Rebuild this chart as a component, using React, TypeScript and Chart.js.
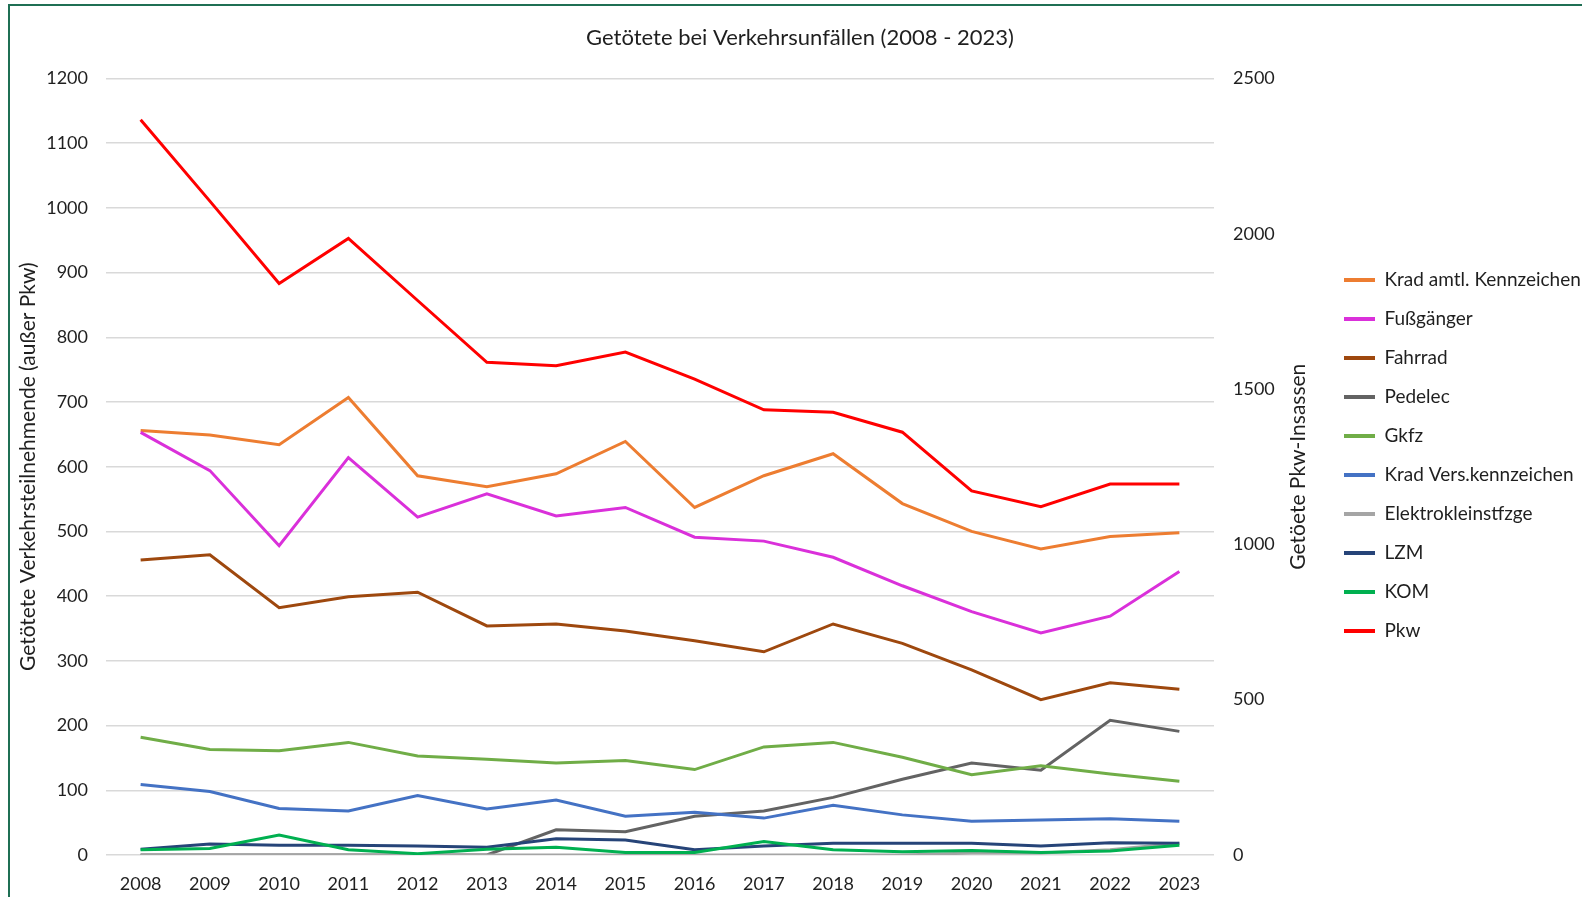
import React, { useEffect, useRef } from "react";
import { Chart, registerables } from "chart.js";

Chart.register(...registerables);

const years = ["2008", "2009", "2010", "2011", "2012", "2013", "2014", "2015", "2016", "2017", "2018", "2019", "2020", "2021", "2022", "2023"];

const kradAmtl = [656, 649, 634, 707, 586, 569, 589, 639, 537, 586, 620, 543, 500, 473, 492, 498];
const fussgaenger = [653, 594, 478, 614, 522, 558, 524, 537, 491, 485, 460, 416, 376, 343, 369, 438];
const fahrrad = [456, 464, 382, 399, 406, 354, 357, 346, 331, 314, 357, 327, 286, 240, 266, 256];
const pedelec = [0, 0, 0, 0, 0, 0, 39, 36, 60, 68, 89, 117, 142, 131, 208, 191];
const gkfz = [182, 163, 161, 174, 153, 148, 142, 146, 132, 167, 174, 151, 124, 138, 125, 114];
const kradVers = [109, 98, 72, 68, 92, 71, 85, 60, 66, 57, 77, 62, 52, 54, 56, 52];
const elektro = [0, 0, 0, 0, 0, 0, 0, 0, 0, 0, 0, 0, 3, 3, 8, 18];
const lzm = [9, 17, 15, 15, 14, 12, 25, 23, 8, 14, 18, 18, 18, 14, 19, 18];
const kom = [8, 10, 31, 8, 2, 9, 12, 4, 4, 21, 8, 5, 7, 4, 6, 15];
const pkw = [2367, 2105, 1840, 1985, 1785, 1586, 1575, 1619, 1532, 1433, 1425, 1361, 1172, 1121, 1194, 1194];

const leftTicks = { min: 0, max: 1200, step: 100 };
const rightTicks = { min: 0, max: 2500, step: 500 };

const chartTitle = "Getötete bei Verkehrsunfällen (2008 - 2023)";
const leftAxisTitle = "Getötete Verkehrsteilnehmende (außer Pkw)";
const rightAxisTitle = "Getöete Pkw-Insassen";

const FONT = "Lato";
const TEXT = "#1f1f1f";

export default function App() {
  const ref = useRef<HTMLCanvasElement>(null);

  useEffect(() => {
    document.body.style.margin = "0";
    document.body.style.overflow = "hidden";
    const canvas = ref.current;
    if (!canvas) return;

    const series = [
      { label: "Krad amtl. Kennzeichen", data: kradAmtl, color: "#ED7D31", axis: "y" },
      { label: "Fußgänger", data: fussgaenger, color: "#DA30DA", axis: "y" },
      { label: "Fahrrad", data: fahrrad, color: "#9E480E", axis: "y" },
      { label: "Pedelec", data: pedelec, color: "#636363", axis: "y" },
      { label: "Gkfz", data: gkfz, color: "#70AD47", axis: "y" },
      { label: "Krad Vers.kennzeichen", data: kradVers, color: "#4472C4", axis: "y" },
      { label: "Elektrokleinstfzge", data: elektro, color: "#A5A5A5", axis: "y" },
      { label: "LZM", data: lzm, color: "#264478", axis: "y" },
      { label: "KOM", data: kom, color: "#00B050", axis: "y" },
      { label: "Pkw", data: pkw, color: "#FF0000", axis: "y1" },
    ];
    const n = series.length;

    const rightTitlePlugin = {
      id: "rightTitle",
      afterDraw(chart: any) {
        const ctx = chart.ctx;
        const area = chart.chartArea;
        ctx.save();
        ctx.font = `21px ${FONT}`;
        ctx.fillStyle = TEXT;
        ctx.textAlign = "center";
        ctx.textBaseline = "middle";
        ctx.translate(area.right + 84, (area.top + area.bottom) / 2);
        ctx.rotate(-Math.PI / 2);
        ctx.fillText(rightAxisTitle, 0, 0);
        ctx.restore();
      },
    };

    const plainTick = (v: any) => String(v);

    const chart = new Chart(canvas, {
      type: "line",
      data: {
        labels: years,
        datasets: series.map((s, i) => ({
          label: s.label,
          data: s.data,
          borderColor: s.color,
          backgroundColor: s.color,
          borderWidth: 3,
          pointRadius: 0,
          pointHoverRadius: 0,
          pointStyle: "line",
          tension: 0,
          fill: false,
          yAxisID: s.axis,
          order: n - i,
        })),
      },
      options: {
        responsive: false,
        animation: false,
        events: [],
        layout: { padding: { left: 18, right: 0, top: 0, bottom: 0 } },
        plugins: {
          title: {
            display: true,
            text: chartTitle,
            color: TEXT,
            font: { family: FONT, size: 22, weight: "normal" },
            padding: { top: 25, bottom: 27 },
          },
          legend: {
            position: "right",
            align: "center",
            maxWidth: 258,
            title: {
              display: true,
              text: " ",
              font: { family: FONT, size: 10, lineHeight: 1 },
              padding: 2,
            },
            labels: {
              usePointStyle: true,
              pointStyle: "line",
              pointStyleWidth: 31,
              padding: 20,
              color: TEXT,
              font: { family: FONT, size: 19 },
              sort: (a: any, b: any) => a.datasetIndex - b.datasetIndex,
              generateLabels: (c: any) => {
                const items = (Chart.defaults.plugins.legend.labels as any).generateLabels(c);
                items.forEach((it: any) => {
                  it.lineWidth = 4;
                });
                return items;
              },
            },
          },
          tooltip: { enabled: false },
        },
        scales: {
          x: {
            type: "category",
            offset: true,
            grid: { display: false, drawTicks: false },
            border: { display: false },
            ticks: {
              color: TEXT,
              font: { family: FONT, size: 18 },
              padding: 18,
              maxRotation: 0,
              autoSkip: false,
            },
            afterFit: (s: any) => {
              s.height = 42;
            },
          },
          y: {
            position: "left",
            min: leftTicks.min,
            max: leftTicks.max,
            ticks: {
              stepSize: leftTicks.step,
              color: TEXT,
              font: { family: FONT, size: 18 },
              padding: 18,
              callback: plainTick,
            },
            grid: { color: "#d9d9d9", lineWidth: 1.5, drawTicks: false },
            border: { display: false },
            title: {
              display: true,
              text: leftAxisTitle,
              color: TEXT,
              font: { family: FONT, size: 21, lineHeight: 1 },
              padding: { top: 0, bottom: 0 },
            },
            afterFit: (s: any) => {
              s.width = 88;
            },
          },
          y1: {
            position: "right",
            min: rightTicks.min,
            max: rightTicks.max,
            ticks: {
              stepSize: rightTicks.step,
              color: TEXT,
              font: { family: FONT, size: 18 },
              padding: 19,
              callback: plainTick,
            },
            grid: { display: false, drawTicks: false },
            border: { display: false },
            afterFit: (s: any) => {
              const lw = s.chart.legend && s.chart.legend.width ? s.chart.legend.width : 258;
              s.width = s.chart.width - 1214 - lw;
            },
          },
        },
      },
      plugins: [rightTitlePlugin],
    } as any);

    return () => {
      chart.destroy();
    };
  }, []);

  return (
    <div style={{ position: "relative", width: 1582, height: 897, overflow: "hidden", background: "#fff" }}>
      <canvas ref={ref} width={1582} height={897} style={{ position: "absolute", left: 0, top: 0, display: "block" }} />
      <div
        style={{
          position: "absolute",
          left: 8,
          top: 4,
          width: 1700,
          height: 1000,
          borderLeft: "2px solid #1f6f54",
          borderTop: "2px solid #1f6f54",
          pointerEvents: "none",
        }}
      />
    </div>
  );
}
